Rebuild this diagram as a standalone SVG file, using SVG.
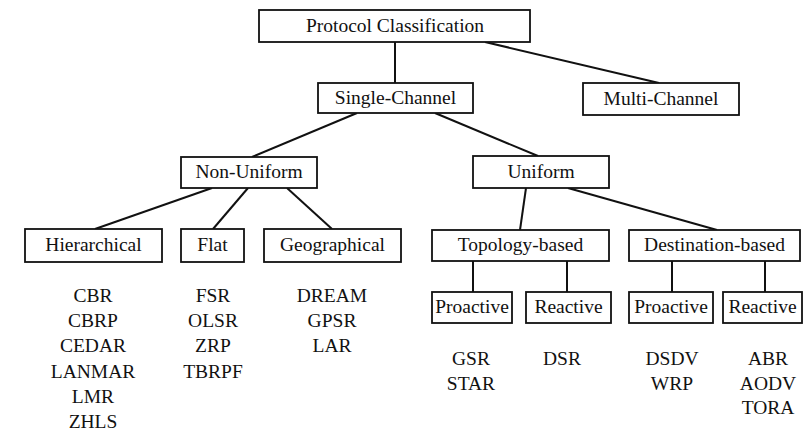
<svg xmlns="http://www.w3.org/2000/svg" width="807" height="431" viewBox="0 0 807 431">
  <style>
    .box { fill: #ffffff; stroke: #111111; stroke-width: 1.8; }
    .lbl { font-family: 'Liberation Serif', 'DejaVu Serif', serif; font-size: 19.5px; fill: #111111; text-anchor: middle; }
    .conn line { stroke: #111111; stroke-width: 2; }
  </style>
  <rect width="807" height="431" fill="#ffffff"/>

  <!-- connectors -->
  <g id="connectors" class="conn">
    <line x1="395" y1="42" x2="395" y2="83"/>
    <line x1="485" y1="42" x2="659" y2="83"/>
    <line x1="357" y1="113" x2="252" y2="157"/>
    <line x1="435" y1="113" x2="538" y2="156"/>
    <line x1="212" y1="188" x2="95" y2="229"/>
    <line x1="248" y1="188" x2="213" y2="229"/>
    <line x1="287" y1="188" x2="332" y2="229"/>
    <line x1="526" y1="188" x2="520" y2="230"/>
    <line x1="568" y1="188" x2="717" y2="230"/>
    <line x1="473" y1="261" x2="473" y2="292"/>
    <line x1="567" y1="261" x2="567" y2="292"/>
    <line x1="672" y1="261" x2="672" y2="292"/>
    <line x1="765" y1="261" x2="765" y2="292"/>
  </g>

  <!-- nodes -->
  <g id="protocol-classification">
    <rect class="box" x="259" y="10" width="271" height="32"/>
    <text class="lbl" x="395" y="32">Protocol Classification</text>
  </g>
  <g id="single-channel">
    <rect class="box" x="318" y="83" width="155" height="30"/>
    <text class="lbl" x="395.5" y="104">Single-Channel</text>
  </g>
  <g id="multi-channel">
    <rect class="box" x="583" y="83" width="156" height="32"/>
    <text class="lbl" x="661" y="105">Multi-Channel</text>
  </g>
  <g id="non-uniform">
    <rect class="box" x="181" y="157" width="136" height="31"/>
    <text class="lbl" x="249" y="178">Non-Uniform</text>
  </g>
  <g id="uniform">
    <rect class="box" x="473" y="156" width="136" height="32"/>
    <text class="lbl" x="541" y="178">Uniform</text>
  </g>
  <g id="hierarchical">
    <rect class="box" x="25" y="229" width="137" height="33"/>
    <text class="lbl" x="93.5" y="251">Hierarchical</text>
  </g>
  <g id="flat">
    <rect class="box" x="181" y="229" width="63" height="33"/>
    <text class="lbl" x="212.5" y="251">Flat</text>
  </g>
  <g id="geographical">
    <rect class="box" x="264" y="229" width="137" height="33"/>
    <text class="lbl" x="332.5" y="251">Geographical</text>
  </g>
  <g id="topology-based">
    <rect class="box" x="432" y="230" width="177" height="31"/>
    <text class="lbl" x="520.5" y="251">Topology-based</text>
  </g>
  <g id="destination-based">
    <rect class="box" x="629" y="230" width="171" height="31"/>
    <text class="lbl" x="714.5" y="251">Destination-based</text>
  </g>
  <g id="topology-proactive">
    <rect class="box" x="432" y="292" width="80" height="31"/>
    <text class="lbl" x="472" y="313">Proactive</text>
  </g>
  <g id="topology-reactive">
    <rect class="box" x="526" y="292" width="85" height="31"/>
    <text class="lbl" x="568.5" y="313">Reactive</text>
  </g>
  <g id="destination-proactive">
    <rect class="box" x="629" y="292" width="84" height="31"/>
    <text class="lbl" x="671" y="313">Proactive</text>
  </g>
  <g id="destination-reactive">
    <rect class="box" x="723" y="292" width="79" height="31"/>
    <text class="lbl" x="762.5" y="313">Reactive</text>
  </g>

  <!-- protocol lists -->
  <g id="hierarchical-protocols">
    <text class="lbl" x="93" y="302">CBR</text>
    <text class="lbl" x="93" y="327.2">CBRP</text>
    <text class="lbl" x="93" y="352.4">CEDAR</text>
    <text class="lbl" x="93" y="377.6">LANMAR</text>
    <text class="lbl" x="93" y="402.8">LMR</text>
    <text class="lbl" x="93" y="428">ZHLS</text>
  </g>
  <g id="flat-protocols">
    <text class="lbl" x="213" y="302">FSR</text>
    <text class="lbl" x="213" y="327.2">OLSR</text>
    <text class="lbl" x="213" y="352.4">ZRP</text>
    <text class="lbl" x="213" y="377.6">TBRPF</text>
  </g>
  <g id="geographical-protocols">
    <text class="lbl" x="332" y="302">DREAM</text>
    <text class="lbl" x="332" y="327.2">GPSR</text>
    <text class="lbl" x="332" y="352.4">LAR</text>
  </g>
  <g id="topology-proactive-protocols">
    <text class="lbl" x="471" y="365">GSR</text>
    <text class="lbl" x="471" y="389.5">STAR</text>
  </g>
  <g id="topology-reactive-protocols">
    <text class="lbl" x="562" y="365">DSR</text>
  </g>
  <g id="destination-proactive-protocols">
    <text class="lbl" x="672" y="365">DSDV</text>
    <text class="lbl" x="672" y="389.5">WRP</text>
  </g>
  <g id="destination-reactive-protocols">
    <text class="lbl" x="768" y="365">ABR</text>
    <text class="lbl" x="768" y="389.5">AODV</text>
    <text class="lbl" x="768" y="414">TORA</text>
  </g>
</svg>
